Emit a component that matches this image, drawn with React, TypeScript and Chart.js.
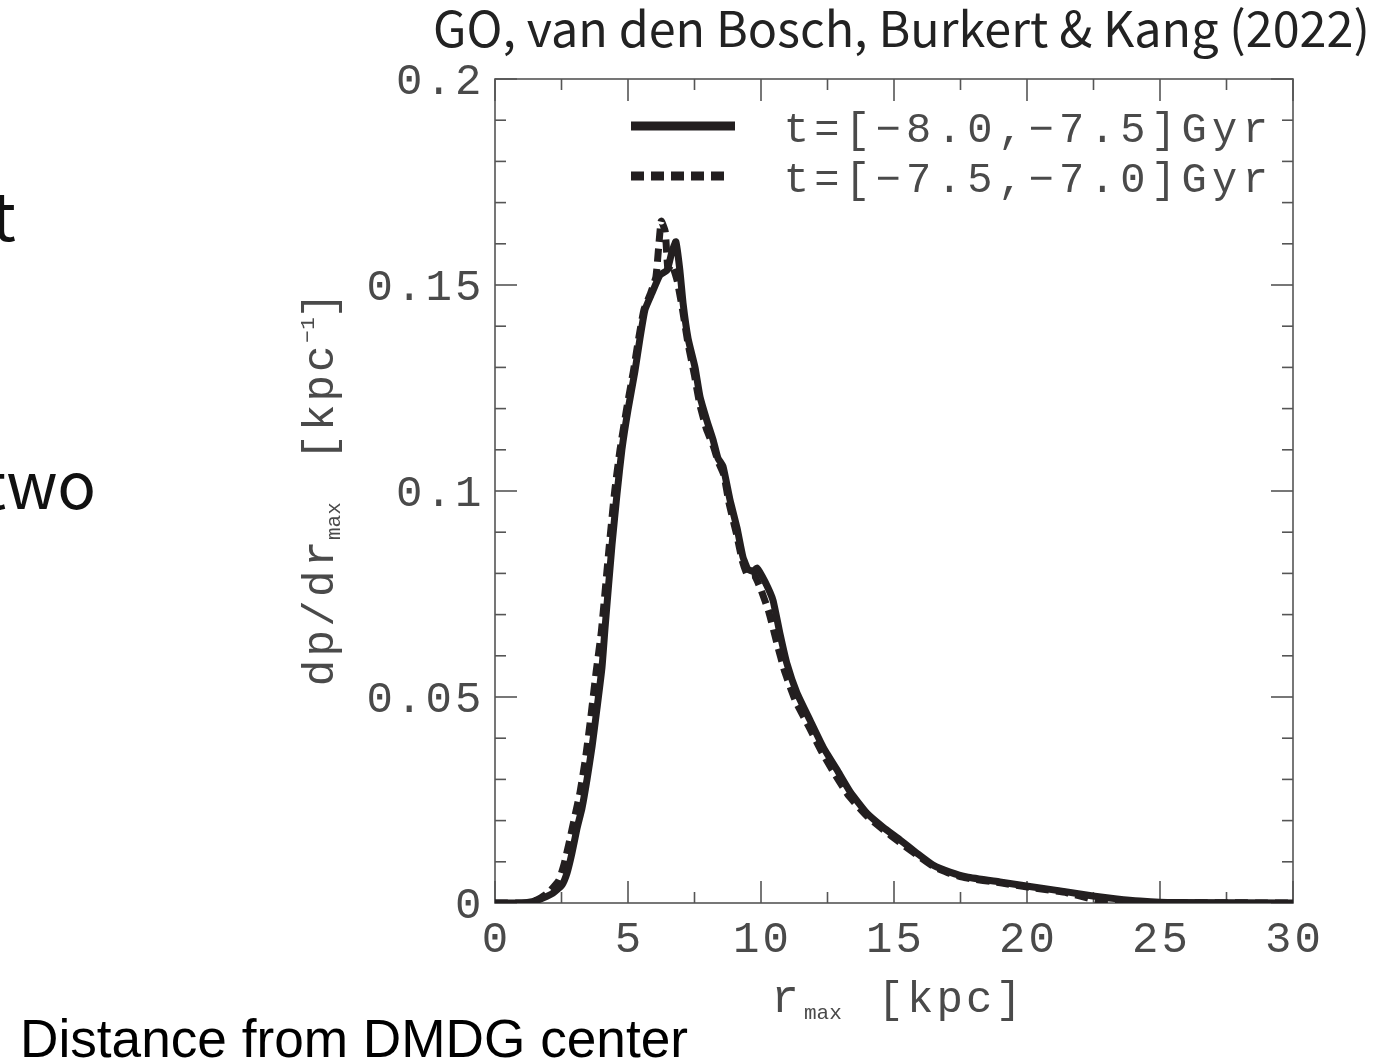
import React, { useEffect, useRef } from "react";
import { Chart, registerables } from "chart.js";

Chart.register(...registerables);

// ---- data ----
const rSolid = [0, 1.0, 1.4, 1.8, 2.18, 2.52, 2.71, 2.89, 3.08, 3.27, 3.46, 3.65, 3.83, 4.02, 4.14, 4.4, 4.59, 4.77, 5.0, 5.26, 5.45, 5.64, 5.9, 6.2, 6.47, 6.65, 6.8, 6.95, 7.07, 7.26, 7.52, 7.71, 7.97, 8.2, 8.38, 8.57, 8.83, 9.1, 9.32, 9.51, 9.7, 9.85, 10.15, 10.45, 10.71, 10.98, 11.35, 11.84, 12.33, 12.86, 13.35, 13.98, 14.59, 15.23, 15.86, 16.47, 17.1, 17.74, 18.98, 20.23, 21.5, 22.48, 23.38, 24.25, 25.5, 30];
const pSolid = [0, 0, 0.0003, 0.0012, 0.0024, 0.0044, 0.0073, 0.012, 0.018, 0.023, 0.030, 0.038, 0.047, 0.057, 0.067, 0.087, 0.0995, 0.110, 0.1197, 0.129, 0.137, 0.144, 0.148, 0.1524, 0.1536, 0.158, 0.1605, 0.1536, 0.1456, 0.137, 0.130, 0.1228, 0.117, 0.1124, 0.108, 0.106, 0.098, 0.091, 0.084, 0.081, 0.0805, 0.0813, 0.078, 0.0735, 0.0655, 0.058, 0.051, 0.0444, 0.0379, 0.0323, 0.027, 0.0218, 0.0184, 0.0153, 0.0121, 0.0092, 0.0075, 0.0063, 0.0051, 0.0039, 0.0027, 0.0017, 0.001, 0.0005, 0.0001, 0];

const rDashed = [0, 1.2, 1.6, 2.0, 2.4, 2.6, 2.8, 3.0, 3.2, 3.4, 3.6, 3.8, 4.0, 4.3, 4.5, 4.7, 4.95, 5.2, 5.4, 5.6, 5.85, 6.05, 6.15, 6.25, 6.4, 6.5, 6.65, 6.85, 7.05, 7.25, 7.5, 7.7, 7.95, 8.2, 8.4, 8.6, 8.8, 9.1, 9.3, 9.5, 9.75, 10.0, 10.3, 10.6, 10.9, 11.3, 11.8, 12.3, 12.8, 13.3, 14.0, 14.6, 15.2, 15.9, 16.5, 17.1, 17.7, 19.0, 20.2, 21.5, 22.3, 22.6, 23.4, 24.3, 25.3, 30];
const pDashed = [0, 0, 0.0008, 0.0025, 0.0055, 0.0095, 0.015, 0.021, 0.027, 0.035, 0.045, 0.056, 0.066, 0.087, 0.1, 0.11, 0.12, 0.129, 0.137, 0.144, 0.148, 0.152, 0.159, 0.1655, 0.163, 0.154, 0.155, 0.151, 0.144, 0.136, 0.128, 0.121, 0.115, 0.111, 0.107, 0.104, 0.097, 0.089, 0.083, 0.0795, 0.0795, 0.076, 0.0705, 0.063, 0.056, 0.049, 0.0428, 0.0365, 0.031, 0.026, 0.021, 0.0178, 0.0148, 0.0115, 0.0088, 0.0072, 0.0061, 0.0049, 0.0037, 0.0025, 0.0012, 0.0008, 0.0005, 0.0002, 0.0001, 0];

const xMajorTicks = [0, 5, 10, 15, 20, 25, 30];
const xTickLabels = ["0", "5", "10", "15", "20", "25", "30"];
const xMinorTicks = [2.5, 7.5, 12.5, 17.5, 22.5, 27.5];
const yMajorTicks = [0, 0.05, 0.1, 0.15, 0.2];
const yTickLabels = ["0", "0.05", "0.1", "0.15", "0.2"];
const yMinorTicks = [0.01, 0.02, 0.03, 0.04, 0.06, 0.07, 0.08, 0.09, 0.11, 0.12, 0.13, 0.14, 0.16, 0.17, 0.18, 0.19];
const legendLabels = ["t=[\u22128.0,\u22127.5]Gyr", "t=[\u22127.5,\u22127.0]Gyr"];
const titleText = "GO, van den Bosch, Burkert & Kang (2022)";
const bottomText = "Distance from DMDG center";

const LINE = "#231f20";
const AXIS = "#555555";
const TEXT = "#4a4a4a";
const MONO = '"Liberation Mono", "DejaVu Sans Mono", monospace';

function drawMono(ctx: CanvasRenderingContext2D, text: string, x: number, y: number, pitch: number) {
  ctx.textAlign = "center";
  for (let i = 0; i < text.length; i++) {
    ctx.fillText(text[i], x + i * pitch + pitch / 2, y);
  }
}

const decorPlugin = {
  id: "decor",
  beforeDatasetsDraw(chart: any) {
    const ctx: CanvasRenderingContext2D = chart.ctx;
    const ca = chart.chartArea;
    const xs = chart.scales.x;
    const ys = chart.scales.y;
    ctx.save();
    ctx.strokeStyle = AXIS;
    ctx.lineWidth = 1.6;
    ctx.strokeRect(ca.left, ca.top, ca.right - ca.left, ca.bottom - ca.top);
    const tk = (x1: number, y1: number, x2: number, y2: number) => {
      ctx.beginPath();
      ctx.moveTo(x1, y1);
      ctx.lineTo(x2, y2);
      ctx.stroke();
    };
    xMajorTicks.forEach((v) => {
      const px = xs.getPixelForValue(v);
      tk(px, ca.bottom, px, ca.bottom - 22);
      tk(px, ca.top, px, ca.top + 22);
    });
    xMinorTicks.forEach((v) => {
      const px = xs.getPixelForValue(v);
      tk(px, ca.bottom, px, ca.bottom - 11);
      tk(px, ca.top, px, ca.top + 11);
    });
    yMajorTicks.forEach((v) => {
      const py = ys.getPixelForValue(v);
      tk(ca.left, py, ca.left + 22, py);
      tk(ca.right, py, ca.right - 22, py);
    });
    yMinorTicks.forEach((v) => {
      const py = ys.getPixelForValue(v);
      tk(ca.left, py, ca.left + 11, py);
      tk(ca.right, py, ca.right - 11, py);
    });
    ctx.restore();
  },
  afterDraw(chart: any) {
    const ctx: CanvasRenderingContext2D = chart.ctx;
    const ca = chart.chartArea;
    const xs = chart.scales.x;
    const ys = chart.scales.y;
    ctx.save();
    ctx.fillStyle = TEXT;
    ctx.textBaseline = "alphabetic";

    // tick labels
    const pitch = 29.5;
    ctx.font = `44px ${MONO}`;
    xMajorTicks.forEach((v, i) => {
      const lab = xTickLabels[i];
      const px = xs.getPixelForValue(v);
      drawMono(ctx, lab, px - (lab.length * pitch) / 2, 952, pitch);
    });
    yMajorTicks.forEach((v, i) => {
      const lab = yTickLabels[i];
      const py = ys.getPixelForValue(v);
      drawMono(ctx, lab, ca.left - 12 - lab.length * pitch, py + 15, pitch);
    });

    // legend
    const lx0 = 631, lx1 = 735;
    const legY = [126, 176];
    ctx.strokeStyle = LINE;
    ctx.lineWidth = 9;
    ctx.lineCap = "butt";
    ctx.beginPath();
    ctx.moveTo(lx0, legY[0]);
    ctx.lineTo(lx1, legY[0]);
    ctx.stroke();
    ctx.setLineDash([13, 7]);
    ctx.beginPath();
    ctx.moveTo(lx0, legY[1]);
    ctx.lineTo(lx1 - 6, legY[1]);
    ctx.stroke();
    ctx.setLineDash([]);
    ctx.font = `42px ${MONO}`;
    legendLabels.forEach((t, i) => {
      drawMono(ctx, t, 781, legY[i] + 16, 30.6);
    });

    // x axis title
    ctx.font = `46px ${MONO}`;
    drawMono(ctx, "r", 770, 1012, 30);
    ctx.font = `21px ${MONO}`;
    drawMono(ctx, "max", 804, 1019, 12.6);
    ctx.font = `44px ${MONO}`;
    drawMono(ctx, "[kpc]", 876, 1012, 29.5);

    // y axis title (rotated)
    ctx.save();
    ctx.translate(333, 688);
    ctx.rotate(-Math.PI / 2);
    ctx.font = `44px ${MONO}`;
    drawMono(ctx, "dp/dr", 0, 0, 29.8);
    ctx.font = `21px ${MONO}`;
    drawMono(ctx, "max", 148, 7, 12.6);
    ctx.font = `44px ${MONO}`;
    drawMono(ctx, "[kpc", 226, 0, 29.5);
    ctx.font = `21px ${MONO}`;
    drawMono(ctx, "\u22121", 345, -19, 13);
    ctx.font = `44px ${MONO}`;
    drawMono(ctx, "]", 368, 0, 29.5);
    ctx.restore();

    // title
    ctx.fillStyle = "#222";
    ctx.textAlign = "left";
    let fs = 40;
    ctx.font = `${fs}px "Noto Sans CJK JP", "Noto Sans", sans-serif`;
    const w = ctx.measureText(titleText).width;
    fs = (fs * 937) / w;
    ctx.font = `${fs}px "Noto Sans CJK JP", "Noto Sans", sans-serif`;
    ctx.fillText(titleText, 433, 47);

    // slide fragments
    ctx.fillStyle = "#111";
    ctx.font = `66px "Noto Sans CJK JP", "Noto Sans", sans-serif`;
    ctx.textAlign = "right";
    ctx.fillText("t", 16, 241);
    ctx.font = `64px "Noto Sans CJK JP", "Noto Sans", sans-serif`;
    ctx.textAlign = "left";
    const woW = ctx.measureText("wo").width;
    ctx.fillText("two", 100 - woW - ctx.measureText("t").width - 4, 509);
    ctx.fillStyle = "#000";
    let bs = 46;
    ctx.font = `${bs}px "Liberation Sans", Arial, sans-serif`;
    const bw = ctx.measureText(bottomText).width;
    bs = (bs * 668) / bw;
    ctx.font = `${bs}px "Liberation Sans", Arial, sans-serif`;
    ctx.fillText(bottomText, 20, 1057);
    ctx.restore();
  },
};

export default function App() {
  const ref = useRef<HTMLCanvasElement | null>(null);
  useEffect(() => {
    if (!ref.current) return;
    const chart = new Chart(ref.current, {
      type: "line",
      data: {
        datasets: [
          {
            label: legendLabels[0],
            data: rSolid.map((r, i) => ({ x: r, y: pSolid[i] })),
            borderColor: LINE,
            borderWidth: 7,
            pointRadius: 0,
            tension: 0.15,
            fill: false,
            clip: 0,
          },
          {
            label: legendLabels[1],
            data: rDashed.map((r, i) => ({ x: r, y: pDashed[i] })),
            borderColor: LINE,
            borderWidth: 7,
            borderDash: [13, 7],
            pointRadius: 0,
            tension: 0.15,
            fill: false,
            clip: 0,
          },
        ],
      },
      options: {
        animation: false,
        responsive: false,
        devicePixelRatio: 1,
        layout: { padding: { left: 495, right: 88, top: 79, bottom: 161 } },
        scales: {
          x: { type: "linear", min: 0, max: 30, display: false },
          y: { type: "linear", min: 0, max: 0.2, display: false },
        },
        plugins: { legend: { display: false }, tooltip: { enabled: false } },
      },
      plugins: [decorPlugin],
    } as any);
    return () => chart.destroy();
  }, []);
  return (
    <div style={{ position: "absolute", left: 0, top: 0, width: 1381, height: 1064, background: "#fff" }}>
      <canvas ref={ref} width={1381} height={1064} />
    </div>
  );
}
